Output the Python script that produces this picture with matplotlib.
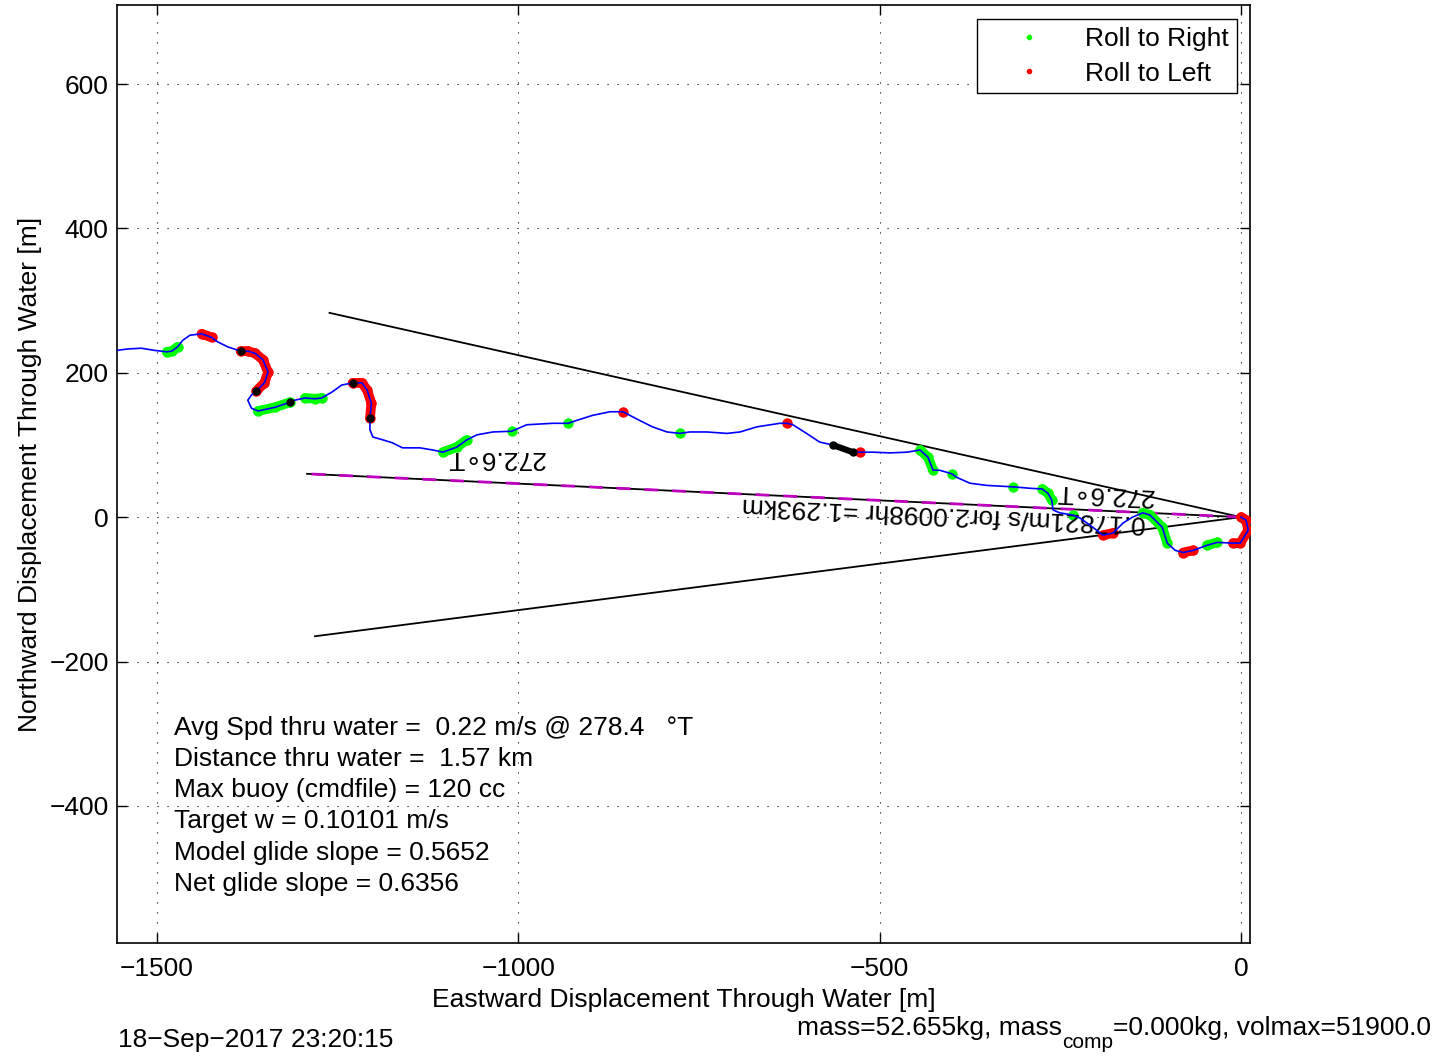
import matplotlib
matplotlib.use("Agg")
import matplotlib.pyplot as plt

plt.rcParams['font.family'] = ['Liberation Sans', 'DejaVu Sans']
plt.rcParams['font.size'] = 19

# glider track through water [m], west -> east
east_m = [-1555, -1540, -1521, -1503, -1486, -1479, -1471, -1464, -1454, -1438,
          -1424, -1416, -1402, -1384, -1374, -1364, -1353, -1346, -1351, -1362,
          -1369, -1374, -1369, -1360, -1337, -1316, -1309, -1295, -1281, -1272,
          -1258, -1244, -1229, -1216, -1209, -1203, -1205, -1205, -1201, -1187,
          -1174, -1160, -1136, -1118, -1104, -1085, -1071, -1057, -1035, -1009,
          -988, -952, -931, -919, -897, -873, -855, -832, -814, -794,
          -776, -763, -739, -711, -693, -670, -638, -628, -620, -601,
          -583, -565, -537, -527, -509, -486, -462, -444, -433, -426,
          -417, -400, -393, -375, -352, -316, -292, -275, -267, -262,
          -260, -251, -233, -223, -205, -191, -177, -163, -150, -136,
          -126, -109, -102, -91, -80, -66, -47, -33, -11, -1,
          10, 7, 0]
north_m = [231, 233, 234, 231, 229, 230, 236, 245, 252, 254,
           249, 243, 236, 230, 230, 227, 218, 201, 186, 175,
           169, 162, 151, 147, 152, 159, 162, 165, 164, 165,
           173, 183, 186, 186, 176, 158, 137, 121, 111, 107,
           103, 96, 96, 93, 90, 97, 107, 114, 118, 119,
           128, 130, 130, 134, 141, 146, 146, 134, 125, 118,
           116, 118, 118, 116, 118, 125, 130, 130, 128, 116,
           104, 100, 90, 90, 90, 89, 90, 93, 83, 65,
           65, 60, 55, 47, 44, 42, 40, 39, 33, 24,
           10, 6, 3, -1, -14, -25, -22, -8, 0, 6,
           3, -14, -36, -46, -49, -46, -39, -35, -36, -36,
           -18, -4, 0]

# index ranges of the track where the glider rolled
roll_right = [(4, 6), (23, 25), (27, 29), (44, 46), (49, 49), (52, 52), (60, 60),
              (77, 79), (81, 81), (85, 85), (87, 89), (92, 92), (99, 102), (106, 107)]
roll_left = [(9, 10), (13, 19), (32, 36), (56, 56), (67, 67), (73, 73),
             (95, 96), (104, 105), (108, 112)]
black_dots = [13, 19, 25, 32, 36, 71, 72]
black_seg = (71, 72)

# heading lines from origin (272.6 deg T, +/- 10 deg)
line_east = [-1261, -1292, -1281]
line_north = [283, 60, -165]

info_lines = ["Avg Spd thru water =  0.22 m/s @ 278.4   \u00b0T",
              "Distance thru water =  1.57 km",
              "Max buoy (cmdfile) = 120 cc",
              "Target w = 0.10101 m/s",
              "Model glide slope = 0.5652",
              "Net glide slope = 0.6356"]

fig = plt.figure(figsize=(14.51, 10.59), dpi=100)
ax = fig.add_axes([0.0806, 0.1095, 0.7809, 0.8858])

# heading cone
ax.plot([0, line_east[0]], [0, line_north[0]], color='k', lw=1.3, zorder=2)
ax.plot([0, line_east[2]], [0, line_north[2]], color='k', lw=1.3, zorder=2)
ax.plot([0, line_east[1]], [0, line_north[1]], color='k', lw=1.3, zorder=2)
ax.plot([0, line_east[1]], [0, line_north[1]], color='m', lw=2.0,
        linestyle=(0, (5, 5)), zorder=2)

# roll highlights
for i0, i1 in roll_right:
    ax.plot(east_m[i0:i1 + 1], north_m[i0:i1 + 1], color=(0, 1, 0), lw=7,
            solid_capstyle='round', marker='o', ms=7.5, mew=0, zorder=3)
for i0, i1 in roll_left:
    ax.plot(east_m[i0:i1 + 1], north_m[i0:i1 + 1], color=(1, 0, 0), lw=7,
            solid_capstyle='round', marker='o', ms=7.5, mew=0, zorder=3)

ax.plot(east_m, north_m, color='b', lw=1.2, zorder=4)

i0, i1 = black_seg
ax.plot(east_m[i0:i1 + 1], north_m[i0:i1 + 1], color='k', lw=4.5,
        solid_capstyle='round', zorder=5)
ax.plot([east_m[i] for i in black_dots], [north_m[i] for i in black_dots],
        'o', color='k', ms=5, zorder=5)

# legend entries
ax.plot([], [], '.', color=(0, 1, 0), ms=6, label='Roll to Right')
ax.plot([], [], '.', color=(1, 0, 0), ms=6, label='Roll to Left')
leg = ax.legend(loc='upper right', bbox_to_anchor=(0.9885, 0.985), borderaxespad=0,
                fancybox=False, framealpha=1, edgecolor='k', handlelength=3.3,
                handletextpad=0.5, borderpad=0.3, labelspacing=0.4, fontsize=19)
leg.get_frame().set_linewidth(1.0)

# upside down annotations
ax.text(-1032, 82, "272.6\u2218T", rotation=180, rotation_mode='anchor',
        ha='center', va='center', fontsize=19)
ax.text(-190, 32, "272.6\u2218T", rotation=177.4, rotation_mode='anchor',
        ha='center', va='center', fontsize=19)
ax.text(-411, 5, "0.17821m/s for2.0098hr =1.293km", rotation=177.4,
        rotation_mode='anchor', ha='center', va='center', fontsize=19)

for k, line in enumerate(info_lines):
    ax.text(-1476, -292 - 43.2 * k, line, ha='left', va='center', fontsize=19)

ax.set_xlim(-1555, 12.5)
ax.set_ylim(-590, 709.5)
ax.set_xticks([-1500, -1000, -500, 0])
ax.set_yticks([-400, -200, 0, 200, 400, 600])
ax.tick_params(direction='in', length=7, width=1, top=True, right=True, labelsize=19)
ax.tick_params(axis='x', pad=10)
ax.tick_params(axis='y', pad=6)
ax.grid(True, color='k', linestyle=(0, (1, 8)), linewidth=0.8)
for s in ax.spines.values():
    s.set_linewidth(1.2)

ax.set_xlabel("Eastward Displacement Through Water [m]", fontsize=19, labelpad=5)
ax.set_ylabel("Northward Displacement Through Water [m]", fontsize=19, labelpad=5)

fig.text(118 / 1451, 1 - 1040 / 1059, "18\u2212Sep\u22122017 23:20:15",
         ha='left', va='center', fontsize=19)

# footer with subscript, pieced together
renderer = fig.canvas.get_renderer()
t1 = fig.text(797 / 1451, 1 - 1028 / 1059, "mass=52.655kg, mass",
              ha='left', va='center', fontsize=19)
x1 = t1.get_window_extent(renderer).x1 / fig.bbox.width
t2 = fig.text(x1, 1 - 1043 / 1059, "comp", ha='left', va='center', fontsize=15)
x2 = t2.get_window_extent(renderer).x1 / fig.bbox.width
fig.text(x2, 1 - 1028 / 1059, "=0.000kg, volmax=51900.0",
         ha='left', va='center', fontsize=19)

fig.savefig("out.png", dpi=100)
